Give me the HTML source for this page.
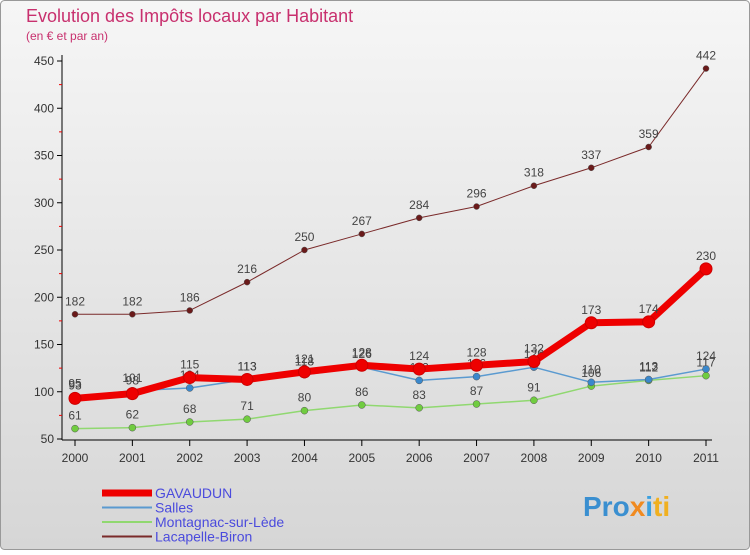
<!DOCTYPE html>
<html><head><meta charset="utf-8"><style>
body{margin:0;background:#fff;font-family:"Liberation Sans",sans-serif}
#c{position:relative;width:750px;height:550px}
</style></head><body>
<div id="c">
<svg width="750" height="550" xmlns="http://www.w3.org/2000/svg">
<defs>
<linearGradient id="bg" x1="0" y1="0" x2="0" y2="1"><stop offset="0" stop-color="#f6f6f6"/><stop offset="1" stop-color="#d6d6d6"/></linearGradient>
</defs>
<rect x="0.5" y="0.5" width="749" height="549" rx="4" fill="url(#bg)" stroke="#999"/>
<text x="26" y="22" font-size="18" fill="#c8306e">Evolution des Impôts locaux par Habitant</text>
<text x="26" y="40" font-size="12" fill="#c8306e">(en € et par an)</text>
<g id="axes"></g>
<g id="series"></g>
<g id="legend"></g>
<text x="583" y="516" font-size="28" font-weight="bold" fill="#3a8fd0">Pro<tspan fill="#f08a20">x</tspan><tspan fill="#3aa0e0">i</tspan><tspan fill="#f0b020">ti</tspan></text>
</svg>
</div>
<script>
const years=[2000,2001,2002,2003,2004,2005,2006,2007,2008,2009,2010,2011];
const gavaudun=[93,98,115,113,121,128,124,128,132,173,174,230];
const salles=[95,101,104,113,118,126,112,116,126,110,113,124];
const montagnac=[61,62,68,71,80,86,83,87,91,106,112,117];
const lacapelle=[182,182,186,216,250,267,284,296,318,337,359,442];
const yTicks=[50,100,150,200,250,300,350,400,450];
const NS="http://www.w3.org/2000/svg";
const xs=i=>75+i*(706-75)/11;
const ys=v=>439-(v-50)*(378/400);
function mk(tag,attrs,parent,txt){const e=document.createElementNS(NS,tag);for(const k in attrs)e.setAttribute(k,attrs[k]);if(txt!==undefined)e.textContent=txt;parent.appendChild(e);return e;}
const ax=document.getElementById('axes');
let a=mk('line',{x1:62,y1:55,x2:62,y2:440,stroke:'#000'},ax);


a=mk('line',{x1:62,y1:440,x2:712,y2:440,stroke:'#000'},ax);


yTicks.forEach((t,i)=>{
  const y=ys(t);
  mk('line',{x1:57,y1:y,x2:62,y2:y,stroke:'#000'},ax);
  const l=mk('text',{x:54,y:y+4,'font-size':12,'text-anchor':'end',fill:'#333'},ax,t);
  
  
  if(i<yTicks.length-1){const m=ys(t+25);mk('line',{x1:59,y1:m,x2:62,y2:m,stroke:'#e00'},ax);}
});
years.forEach((yr,i)=>{
  const x=xs(i);
  mk('line',{x1:x,y1:440,x2:x,y2:446,stroke:'#000'},ax);
  const l=mk('text',{x:x,y:462,'font-size':12,'text-anchor':'middle',fill:'#333'},ax,yr);
  
  
});
const sg=document.getElementById('series');
const series=[
 {name:'lacapelle-biron',d:lacapelle,c:'#7a2a2a',w:1,r:3,f:'#6a1a1a'},
 {name:'montagnac-sur-lede',d:montagnac,c:'#90d870',w:1.5,r:3.5,f:'#70cc40'},
 {name:'salles',d:salles,c:'#5a9ad0',w:1.5,r:3.5,f:'#3a88cc'},
 {name:'gavaudun',d:gavaudun,c:'#ee0000',w:7,r:6,f:'#ee0000'}];
series.forEach(s=>{
  const g=mk('g',{},sg);
  
  
  const pts=s.d.map((v,i)=>xs(i)+','+ys(v)).join(' ');
  const pl=mk('polyline',{points:pts,fill:'none',stroke:s.c,'stroke-width':s.w,'stroke-linejoin':'round'},g);
  
  
  s.d.forEach((v,i)=>{
    const c=mk('circle',{cx:xs(i),cy:ys(v),r:s.r,fill:s.f,stroke:s.name==='gavaudun'?'#c00':'#555','stroke-width':s.name==='gavaudun'?1:0.5},g);
    
    
    const t=mk('text',{x:xs(i),y:ys(v)-9,'font-size':12,'text-anchor':'middle',fill:'#444'},g,v);
    
    
  });
});
const lg=document.getElementById('legend');
const leg=[['GAVAUDUN','#ee0000',7],['Salles','#5a9ad0',2],['Montagnac-sur-Lède','#90d870',2],['Lacapelle-Biron','#7a2a2a',2]];
leg.forEach((e,i)=>{
  const y=493+i*14.5;
  const g=mk('g',{},lg);
  
  
  mk('line',{x1:102,y1:y,x2:152,y2:y,stroke:e[1],'stroke-width':e[2]},g);
  mk('text',{x:155,y:y+5,'font-size':14,fill:'#4b4bdd'},g,e[0]);
});
</script>
</body></html>
